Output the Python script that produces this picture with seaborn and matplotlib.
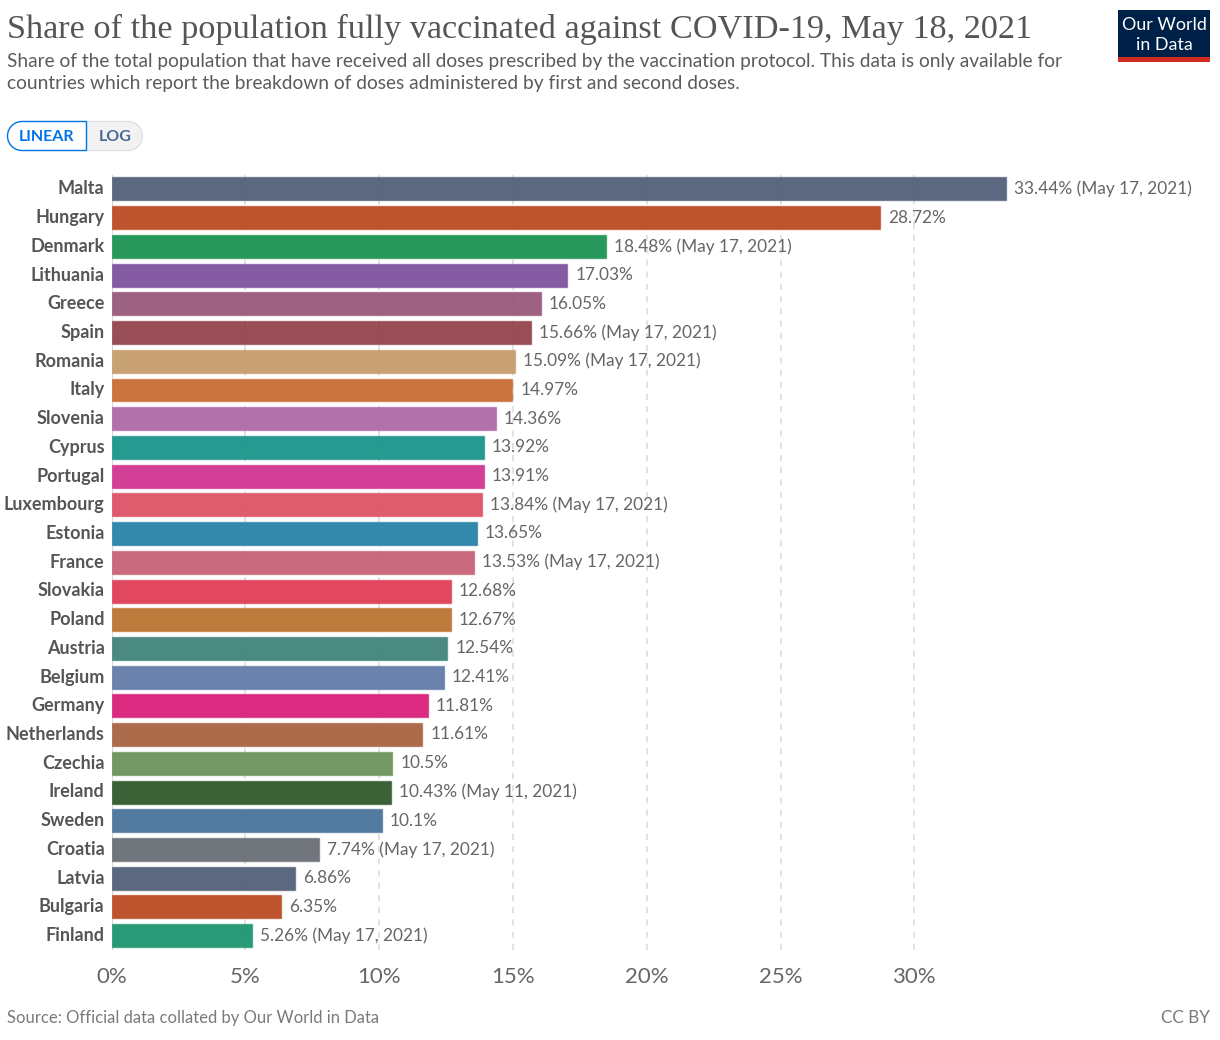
import matplotlib
matplotlib.use("Agg")
from matplotlib import pyplot as plt
from matplotlib.patches import Rectangle, PathPatch
from matplotlib.path import Path
from matplotlib.transforms import ScaledTranslation
import seaborn as sns
import pandas as pd

W, H = 1220, 1040

countries = ["Malta", "Hungary", "Denmark", "Lithuania", "Greece", "Spain", "Romania", "Italy",
             "Slovenia", "Cyprus", "Portugal", "Luxembourg", "Estonia", "France", "Slovakia",
             "Poland", "Austria", "Belgium", "Germany", "Netherlands", "Czechia", "Ireland",
             "Sweden", "Croatia", "Latvia", "Bulgaria", "Finland"]
shares = [33.44, 28.72, 18.48, 17.03, 16.05, 15.66, 15.09, 14.97, 14.36, 13.92, 13.91, 13.84,
          13.65, 13.53, 12.68, 12.67, 12.54, 12.41, 11.81, 11.61, 10.5, 10.43, 10.1, 7.74,
          6.86, 6.35, 5.26]
dates = ["May 17, 2021", "", "May 17, 2021", "", "", "May 17, 2021", "May 17, 2021", "", "", "",
         "", "May 17, 2021", "", "May 17, 2021", "", "", "", "", "", "", "", "May 11, 2021", "",
         "May 17, 2021", "", "", "May 17, 2021"]
colors = ["#4f5d75", "#b9481f", "#18904f", "#7c4f9c", "#965577", "#91404a", "#c59b69", "#c9692e",
          "#ad66a5", "#149388", "#d0308f", "#dd4f63", "#2280a6", "#c65f74", "#df3a54", "#b9722d",
          "#3d8177", "#5f79a6", "#d81b78", "#a6613d", "#689058", "#2c5627", "#467198", "#666b72",
          "#4f5d75", "#b9481f", "#18936d"]
x_ticks = [0, 5, 10, 15, 20, 25, 30]

sns.set_theme(style="white")
plt.rcParams["font.family"] = ["Lato", "DejaVu Sans"]

df = pd.DataFrame({"country": countries, "share": shares})

fig = plt.figure(figsize=(W / 100, H / 100), dpi=100, facecolor="white")
# axes box in pixels: x 111.5 is 0%, 26.76 px per percent
left, right, top, bottom = 111.5, 1140, 174.6, 950
ax = fig.add_axes([left / W, 1 - bottom / H, (right - left) / W, (bottom - top) / H])

sns.barplot(data=df, x="share", y="country", hue="country", palette=colors, legend=False,
            saturation=1, width=0.8, linewidth=1, ax=ax, zorder=3)
for patch in ax.patches:
    r, g, b, _ = patch.get_facecolor()
    patch.set_facecolor((r, g, b, 0.93))
    patch.set_edgecolor((r, g, b, 0.6))

ax.set_xlim(0, (right - left) / 26.76)
ax.set_ylim(26.5, -0.5)
ax.set_xticks(x_ticks)
ax.set_xticklabels([f"{t}%" for t in x_ticks], fontsize=16, color="#666666")
ax.set_xlabel("")
ax.set_ylabel("")
ax.set_axisbelow(True)
ax.xaxis.grid(True, color="#dadada", linestyle=(0, (4, 4)), linewidth=1.1)
ax.yaxis.grid(False)
ax.tick_params(axis="x", length=0, pad=12)
ax.tick_params(axis="y", length=0, pad=5)
up = ScaledTranslation(0, 1.6 / 100, fig.dpi_scale_trans)
for lab in ax.get_yticklabels():
    lab.set_fontsize(13)
    lab.set_fontweight("bold")
    lab.set_color("#555555")
    lab.set_transform(lab.get_transform() + up)
sns.despine(ax=ax, left=True, right=True, top=True, bottom=True)
ax.axvline(0, color="#d0d0d0", linewidth=1.1, zorder=1)
ax.patch.set_alpha(0)

for i, (v, d) in enumerate(zip(shares, dates)):
    label = f"{v:g}%" + (f" ({d})" if d else "")
    ax.annotate(label, (v, i), xytext=(5.8, 1.2), textcoords="offset points", va="center_baseline",
                fontsize=12.4, color="#666666", zorder=5)

# overlay in pixel coordinates for header, buttons, logo and footer
ov = fig.add_axes([0, 0, 1, 1], zorder=10)
ov.set_xlim(0, W)
ov.set_ylim(H, 0)
ov.axis("off")

ov.text(7, 29, "Share of the population fully vaccinated against COVID-19, May 18, 2021",
        family=["Liberation Serif"], fontsize=24.65, color="#555555", va="center", ha="left")
ov.text(7, 61, "Share of the total population that have received all doses prescribed by the "
        "vaccination protocol. This data is only available for",
        fontsize=13.8, color="#5b5b5b", va="center")
ov.text(7, 84, "countries which report the breakdown of doses administered by first and second doses.",
        fontsize=13.8, color="#5b5b5b", va="center")


def pill_half(x0, x1, y0, y1, round_left, face, edge, lw):
    r = (y1 - y0) / 2
    k = 0.5523 * r
    if round_left:
        verts = [(x1, y0), (x0 + r, y0), (x0 + r - k, y0), (x0, y0 + r - k), (x0, y0 + r),
                 (x0, y0 + r + k), (x0 + r - k, y1), (x0 + r, y1), (x1, y1), (x1, y0)]
    else:
        verts = [(x0, y0), (x1 - r, y0), (x1 - r + k, y0), (x1, y0 + r - k), (x1, y0 + r),
                 (x1, y0 + r + k), (x1 - r + k, y1), (x1 - r, y1), (x0, y1), (x0, y0)]
    codes = [Path.MOVETO, Path.LINETO, Path.CURVE4, Path.CURVE4, Path.CURVE4,
             Path.CURVE4, Path.CURVE4, Path.CURVE4, Path.LINETO, Path.CLOSEPOLY]
    ov.add_patch(PathPatch(Path(verts, codes), facecolor=face, edgecolor=edge, linewidth=lw))


pill_half(86.5, 142.5, 121.5, 150.5, False, "#f2f2f2", "#dcdfe6", 0.9)
pill_half(7.5, 86.5, 121.5, 150.5, True, "#ffffff", "#0073e6", 1.0)
ov.text(47, 137, "LINEAR", fontsize=11.5, fontweight="bold", color="#0073e6", ha="center", va="center")
ov.text(115, 137, "LOG", fontsize=11.5, fontweight="bold", color="#4a6a94", ha="center", va="center")

ov.add_patch(Rectangle((1118, 10), 92, 47, facecolor="#002147", edgecolor="none"))
ov.add_patch(Rectangle((1118, 57), 92, 5, facecolor="#d42b21", edgecolor="none"))
ov.text(1164, 25, "Our World", fontsize=12.9, color="white", ha="center", va="center")
ov.text(1164, 45, "in Data", fontsize=12.9, color="white", ha="center", va="center")

ov.text(7, 1018, "Source: Official data collated by Our World in Data", fontsize=12,
        color="#7a7a7a", va="center")
ov.text(1210, 1018, "CC BY", fontsize=12.3, color="#7a7a7a", va="center", ha="right")

fig.savefig("out.png", dpi=100)
